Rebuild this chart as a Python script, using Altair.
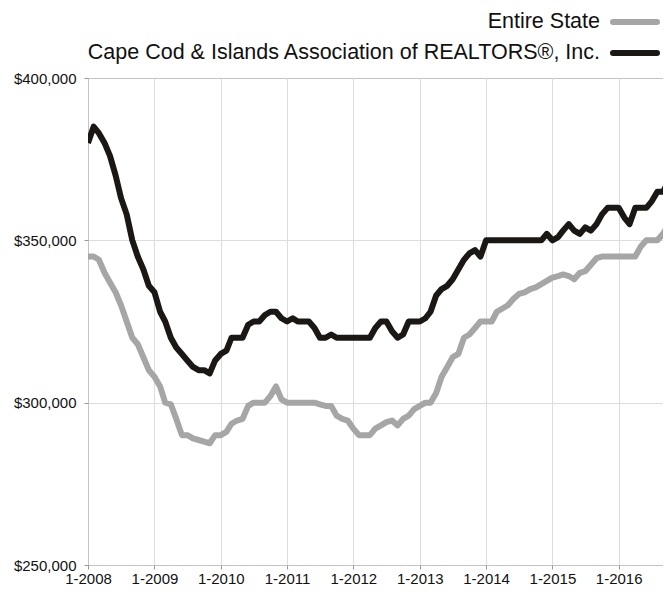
import altair as alt
import pandas as pd

# ---- data (monthly, Jan 2008 .. Oct 2016) ----
start_month = "2008-01-01"
n_months = 106

cape_cod = [
    380, 385, 383, 380, 376, 370, 363, 358, 350, 345, 341, 336,
    334, 328, 325, 320, 317, 315, 313, 311, 310, 310, 309, 313,
    315, 316, 320, 320, 320, 324, 325, 325, 327, 328, 328, 326,
    325, 326, 325, 325, 325, 323, 320, 320, 321, 320, 320, 320,
    320, 320, 320, 320, 323, 325, 325, 322, 320, 321, 325, 325,
    325, 326, 328, 333, 335, 336, 338, 341, 344, 346, 347, 345,
    350, 350, 350, 350, 350, 350, 350, 350, 350, 350, 350, 352,
    350, 351, 353, 355, 353, 352, 354, 353, 355, 358, 360, 360,
    360, 357, 355, 360, 360, 360, 362, 365, 365, 368,
]
entire_state = [
    345, 345, 344, 340, 337, 334, 330, 325, 320, 318, 314, 310,
    308, 305, 300, 299.5, 295, 290, 290, 289, 288.5, 288, 287.5, 290,
    290, 291, 293.5, 294.5, 295, 299, 300, 300, 300, 302, 305, 301,
    300, 300, 300, 300, 300, 300, 299.5, 299, 299, 296, 295, 294.5,
    292, 290, 290, 290, 292, 293, 294, 294.5, 293, 295, 296, 298,
    299, 300, 300, 303, 308, 311, 314, 315, 320, 321, 323, 325,
    325, 325, 328, 329, 330, 332, 333.5, 334, 335, 335.5, 336.5, 337.5,
    338.5, 339, 339.5, 339, 338, 340, 340.5, 342.5, 344.5, 345, 345, 345,
    345, 345, 345, 345, 348, 350, 350, 350, 352, 355,
]
series_names = ["Entire State", "Cape Cod & Islands Association of REALTORS®, Inc."]
series_colors = ["#a6a6a6", "#1b1714"]
y_ticks = [250000, 300000, 350000, 400000]
x_tick_years = list(range(2008, 2017))

dates = pd.date_range(start_month, periods=n_months, freq="MS")
df = pd.concat([
    pd.DataFrame({"date": dates, "price": [v * 1000 for v in entire_state], "series": series_names[0]}),
    pd.DataFrame({"date": dates, "price": [v * 1000 for v in cape_cod], "series": series_names[1]}),
])
legend_df = pd.DataFrame({"series": series_names})

FONT = "Liberation Sans"
color_scale = alt.Scale(domain=series_names, range=series_colors)

lines = alt.Chart(df).mark_line(strokeWidth=6, clip=True, strokeJoin="round", strokeCap="butt").encode(
    x=alt.X(
        "date:T",
        title=None,
        scale=alt.Scale(domain=[alt.DateTime(year=2008, month=1, date=1),
                                alt.DateTime(year=2016, month=9, date=1)]),
        axis=alt.Axis(
            values=[alt.DateTime(year=y, month=1, date=1) for y in x_tick_years],
            format="%-m-%Y",
            labelFont=FONT, labelFontSize=15, labelColor="#111",
            labelPadding=2, tickSize=4, tickColor="#999",
            labelOverlap=False, labelFlush=False,
            domain=False,
            gridColor="#dddddd",
            gridOpacity={"condition": {"test": "datum.index == 0", "value": 0}, "value": 1},
        ),
    ),
    y=alt.Y(
        "price:Q",
        title=None,
        scale=alt.Scale(domain=[250000, 400000]),
        axis=alt.Axis(
            values=y_ticks,
            format="$,.0f",
            labelFont=FONT, labelFontSize=15, labelColor="#111",
            labelPadding=8, tickSize=4, tickColor="#999",
            labelOverlap=False, labelFlush=False,
            domain=False,
            gridColor="#dddddd",
            gridOpacity={"condition": {"test": "datum.value == 250000 || datum.value == 400000", "value": 0}, "value": 1},
        ),
    ),
    color=alt.Color("series:N", scale=color_scale, legend=None),
    order=alt.Order("series:N"),
)

# legend rows drawn above the plot, right-aligned label then a line swatch
legend_rows = [(series_names[0], -56), (series_names[1], -25)]
legend_layers = []
for name, row_y in legend_rows:
    base = alt.Chart(legend_df).transform_filter(alt.datum.series == name)
    legend_layers.append(
        base.mark_text(align="right", baseline="middle", font=FONT, fontSize=21.5, color="#111").encode(
            x=alt.value(512), y=alt.value(row_y), text="series:N"
        )
    )
    legend_layers.append(
        base.mark_rule(strokeWidth=6, strokeCap="round").encode(
            x=alt.value(525), x2=alt.value(569), y=alt.value(row_y),
            color=alt.Color("series:N", scale=color_scale, legend=None),
        )
    )

chart = alt.layer(lines, *legend_layers).properties(
    width=575, height=487,
    autosize=alt.AutoSizeParams(type="none"),
    padding={"left": 80, "top": 70, "right": 0, "bottom": 23},
).configure_view(
    stroke="#888888", strokeDash=[1, 1], strokeWidth=1,
)

chart.save("out.html", embed_options={"renderer": "svg", "actions": False})
